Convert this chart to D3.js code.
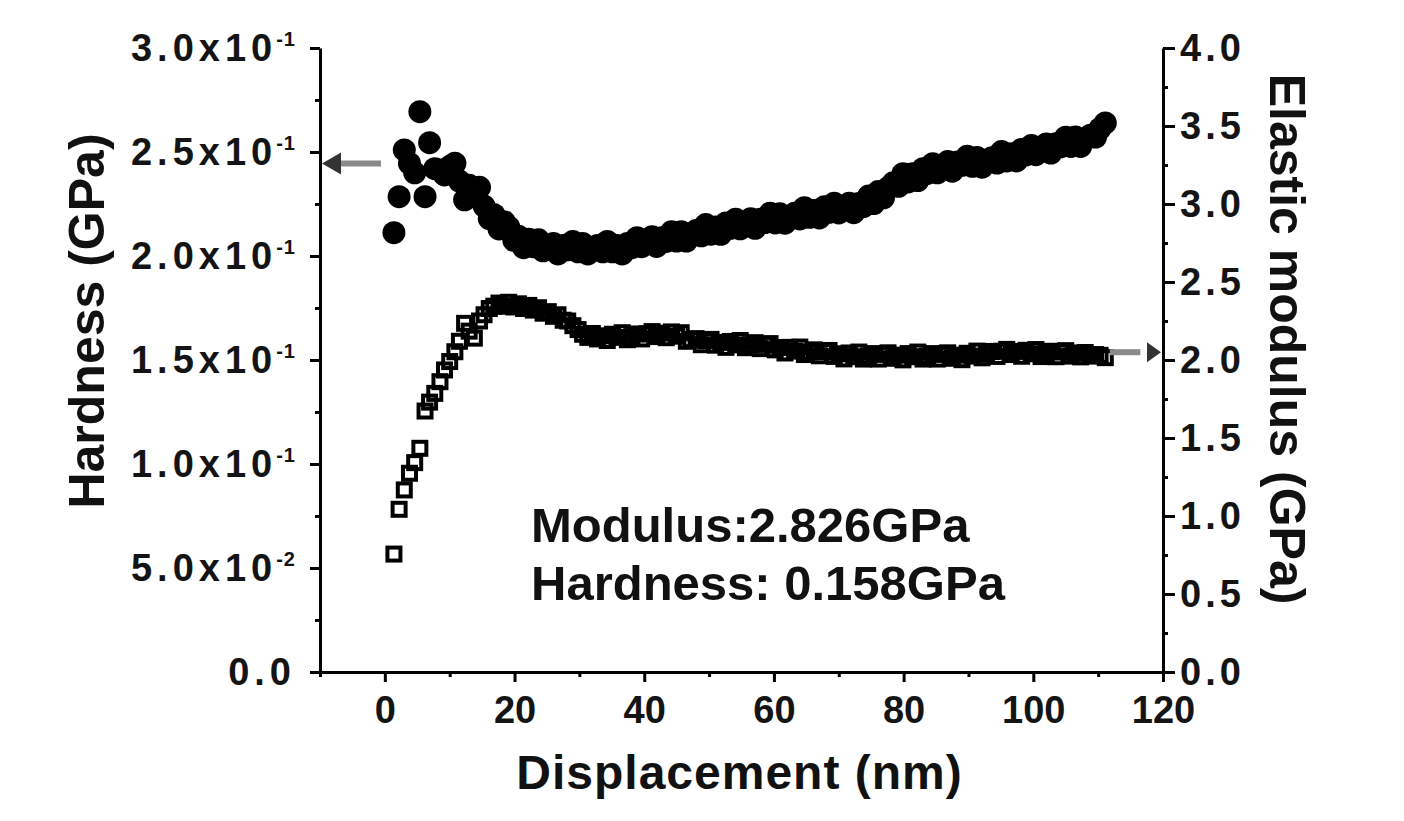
<!DOCTYPE html>
<html>
<head>
<meta charset="utf-8">
<script src="https://cdn.jsdelivr.net/npm/d3@7"></script>
<style>
  body { margin: 0; background: #fff; }
  svg { display: block; }
</style>
</head>
<body>
<div id="chart"></div>
<script>
// data (displacement in nm, hardness and modulus in GPa)
const displacement = [
  1.4, 2.2, 3.0, 3.8, 4.6, 5.4, 6.2, 6.9, 7.7, 8.5,
  9.2, 10.0, 10.8, 11.5, 12.3, 13.0, 13.8, 14.6, 15.3, 16.1,
  16.8, 17.6, 18.4, 19.1, 19.9, 20.6, 21.4, 22.2, 22.9, 23.7,
  24.4, 25.2, 26.0, 26.7, 27.5, 28.2, 29.0, 29.8, 30.5, 31.3,
  32.0, 32.8, 33.6, 34.3, 35.1, 35.8, 36.6, 37.4, 38.1, 38.9,
  39.6, 40.4, 41.2, 41.9, 42.7, 43.4, 44.2, 45.0, 45.7, 46.5,
  47.2, 48.0, 48.8, 49.5, 50.3, 51.0, 51.8, 52.6, 53.3, 54.1,
  54.8, 55.6, 56.4, 57.1, 57.9, 58.6, 59.4, 60.2, 60.9, 61.7,
  62.4, 63.2, 64.0, 64.7, 65.5, 66.2, 67.0, 67.8, 68.5, 69.3,
  70.0, 70.8, 71.6, 72.3, 73.1, 73.8, 74.6, 75.4, 76.1, 76.9,
  77.6, 78.4, 79.2, 79.9, 80.7, 81.4, 82.2, 83.0, 83.7, 84.5,
  85.2, 86.0, 86.8, 87.5, 88.3, 89.0, 89.8, 90.6, 91.3, 92.1,
  92.8, 93.6, 94.4, 95.1, 95.9, 96.6, 97.4, 98.2, 98.9, 99.7,
  100.4, 101.2, 102.0, 102.7, 103.5, 104.2, 105.0, 105.8, 106.5, 107.3,
  108.0, 108.8, 109.6, 110.3, 111.1
];

const hardness = [
  0.2112, 0.2285, 0.2510, 0.2445, 0.2400, 0.2694, 0.2285, 0.2545, 0.2420, 0.2413,
  0.2390, 0.2430, 0.2446, 0.2360, 0.2270, 0.2340, 0.2290, 0.2330, 0.2240, 0.2180,
  0.2200, 0.2130, 0.2165, 0.2140, 0.2075, 0.2095, 0.2040, 0.2080, 0.2045, 0.2078,
  0.2025, 0.2040, 0.2060, 0.2010, 0.2050, 0.2030, 0.2070, 0.2020, 0.2060, 0.2010,
  0.2040, 0.2050, 0.2020, 0.2070, 0.2020, 0.2050, 0.2010, 0.2060, 0.2040, 0.2088,
  0.2045, 0.2070, 0.2093, 0.2046, 0.2088, 0.2070, 0.2116, 0.2072, 0.2117, 0.2072,
  0.2107, 0.2122, 0.2097, 0.2151, 0.2105, 0.2139, 0.2104, 0.2159, 0.2133, 0.2177,
  0.2131, 0.2155, 0.2179, 0.2133, 0.2177, 0.2161, 0.2205, 0.2159, 0.2203, 0.2158,
  0.2191, 0.2205, 0.2178, 0.2232, 0.2186, 0.2219, 0.2183, 0.2237, 0.2210, 0.2254,
  0.2207, 0.2231, 0.2254, 0.2208, 0.2252, 0.2238, 0.2288, 0.2252, 0.2310, 0.2280,
  0.2328, 0.2352, 0.2335, 0.2396, 0.2356, 0.2395, 0.2363, 0.2420, 0.2397, 0.2444,
  0.2400, 0.2427, 0.2454, 0.2408, 0.2452, 0.2436, 0.2479, 0.2431, 0.2474, 0.2427,
  0.2459, 0.2472, 0.2447, 0.2502, 0.2457, 0.2492, 0.2457, 0.2512, 0.2486, 0.2531,
  0.2487, 0.2513, 0.2539, 0.2495, 0.2540, 0.2525, 0.2571, 0.2527, 0.2572, 0.2527,
  0.2563, 0.2581, 0.2572, 0.2613, 0.2640
];

const modulus = [
  0.756, 1.043, 1.167, 1.274, 1.342, 1.434, 1.673, 1.730, 1.786, 1.861,
  1.936, 1.990, 2.053, 2.120, 2.235, 2.185, 2.140, 2.250, 2.290, 2.330,
  2.345, 2.365, 2.345, 2.370, 2.340, 2.360, 2.330, 2.350, 2.320, 2.335,
  2.300, 2.310, 2.280, 2.290, 2.255, 2.250, 2.220, 2.195, 2.165, 2.145,
  2.170, 2.135, 2.155, 2.125, 2.165, 2.145, 2.175, 2.130, 2.150, 2.167,
  2.135, 2.168, 2.182, 2.150, 2.172, 2.143, 2.180, 2.153, 2.175, 2.120,
  2.130, 2.137, 2.098, 2.125, 2.132, 2.095, 2.113, 2.081, 2.119, 2.097,
  2.125, 2.079, 2.098, 2.111, 2.073, 2.100, 2.105, 2.065, 2.080, 2.045,
  2.081, 2.057, 2.083, 2.035, 2.052, 2.065, 2.027, 2.054, 2.061, 2.023,
  2.040, 2.007, 2.045, 2.021, 2.051, 2.006, 2.026, 2.041, 2.006, 2.036,
  2.046, 2.011, 2.031, 2.001, 2.041, 2.021, 2.051, 2.006, 2.026, 2.041,
  2.006, 2.036, 2.046, 2.011, 2.031, 2.002, 2.043, 2.025, 2.057, 2.014,
  2.037, 2.055, 2.023, 2.056, 2.068, 2.035, 2.055, 2.024, 2.062, 2.040,
  2.067, 2.022, 2.042, 2.056, 2.021, 2.051, 2.060, 2.025, 2.045, 2.020,
  2.048, 2.025, 2.035, 2.030, 2.015
];

const xTicks = [0, 20, 40, 60, 80, 100, 120];
const xMinorTicks = [-10, 10, 30, 50, 70, 90, 110];
const hardnessTicks = [0, 0.05, 0.1, 0.15, 0.2, 0.25, 0.3];
const hardnessMinorTicks = [0.025, 0.075, 0.125, 0.175, 0.225, 0.275];
const hardnessLabels = [
  ["0.0", ""], ["5.0x10", "-2"], ["1.0x10", "-1"], ["1.5x10", "-1"],
  ["2.0x10", "-1"], ["2.5x10", "-1"], ["3.0x10", "-1"]
];
const modulusTicks = [0, 0.5, 1, 1.5, 2, 2.5, 3, 3.5, 4];
const modulusMinorTicks = [0.25, 0.75, 1.25, 1.75, 2.25, 2.75, 3.25, 3.75];
const notes = ["Modulus:2.826GPa", "Hardness: 0.158GPa"];

const drawChart = () => {
  const dimensions = {
    width: 1404,
    height: 821,
    margin: { top: 48, right: 241, bottom: 149, left: 320 },
  };
  const x0 = dimensions.margin.left;
  const x1 = dimensions.width - dimensions.margin.right;
  const y0 = dimensions.height - dimensions.margin.bottom;
  const y1 = dimensions.margin.top;
  const font = "'Liberation Sans', Arial, sans-serif";

  const svg = d3
    .select("#chart")
    .append("svg")
    .attr("width", dimensions.width)
    .attr("height", dimensions.height)
    .style("background", "#fff");

  // Scales
  const xScale = d3.scaleLinear().domain([-10, 120]).range([x0, x1]);
  const hScale = d3.scaleLinear().domain([0, 0.3]).range([y0, y1]);
  const eScale = d3.scaleLinear().domain([0, 4]).range([y0, y1]);

  const styleAxis = (g) => {
    g.attr("font-family", font).attr("font-size", 38).attr("font-weight", "bold");
    g.select(".domain").attr("stroke", "#000").attr("stroke-width", 3);
    g.selectAll(".tick line").attr("stroke", "#000").attr("stroke-width", 3);
    g.selectAll(".tick text").attr("fill", "#141414");
  };
  const minorAxis = (g) => {
    g.select(".domain").remove();
    g.selectAll(".tick line").attr("stroke", "#000").attr("stroke-width", 3);
  };

  // minor ticks
  svg
    .append("g")
    .attr("transform", `translate(0,${y0})`)
    .call(d3.axisBottom(xScale).tickValues(xMinorTicks).tickSize(5).tickFormat(""))
    .call(minorAxis);
  svg
    .append("g")
    .attr("transform", `translate(${x0},0)`)
    .call(d3.axisLeft(hScale).tickValues(hardnessMinorTicks).tickSize(5).tickFormat(""))
    .call(minorAxis);
  svg
    .append("g")
    .attr("transform", `translate(${x1},0)`)
    .call(d3.axisRight(eScale).tickValues(modulusMinorTicks).tickSize(5).tickFormat(""))
    .call(minorAxis);

  // X axis
  svg
    .append("g")
    .attr("transform", `translate(0,${y0})`)
    .call(
      d3.axisBottom(xScale).tickValues(xTicks).tickSize(10).tickSizeOuter(0).tickPadding(14)
    )
    .call(styleAxis);

  // Left axis (hardness) with superscript labels
  const leftAxis = svg
    .append("g")
    .attr("transform", `translate(${x0},0)`)
    .call(
      d3.axisLeft(hScale).tickValues(hardnessTicks).tickSize(10).tickSizeOuter(0)
        .tickPadding(14).tickFormat(() => "")
    )
    .call(styleAxis);

  leftAxis.selectAll(".tick text").each(function (d, i) {
    const t = d3.select(this);
    const [base, exp] = hardnessLabels[i];
    t.append("tspan").attr("letter-spacing", 5).text(base);
    if (exp) {
      t.append("tspan")
        .attr("dx", -1)
        .attr("dy", -15)
        .attr("font-size", 20)
        .attr("letter-spacing", 1)
        .text(exp);
    }
  });

  // Right axis (modulus)
  svg
    .append("g")
    .attr("transform", `translate(${x1},0)`)
    .call(
      d3.axisRight(eScale).tickValues(modulusTicks).tickSize(12).tickSizeOuter(0)
        .tickPadding(5).tickFormat(d3.format(".1f"))
    )
    .call(styleAxis)
    .selectAll(".tick text")
    .attr("letter-spacing", 4);

  // Modulus: open squares
  const side = 13;
  svg
    .append("g")
    .selectAll("rect")
    .data(displacement)
    .join("rect")
    .attr("x", (d) => xScale(d) - side / 2)
    .attr("y", (d, i) => eScale(modulus[i]) - side / 2)
    .attr("width", side)
    .attr("height", side)
    .attr("fill", "none")
    .attr("stroke", "#000")
    .attr("stroke-width", 4);

  // Hardness: filled circles
  svg
    .append("g")
    .selectAll("circle")
    .data(displacement)
    .join("circle")
    .attr("cx", (d) => xScale(d))
    .attr("cy", (d, i) => hScale(hardness[i]))
    .attr("r", 11.5)
    .attr("fill", "#000");

  // Arrows pointing to the axes
  const arrows = svg.append("g");
  const ly = hScale(0.2445);
  arrows
    .append("line")
    .attr("x1", xScale(-0.6))
    .attr("x2", xScale(-7.5))
    .attr("y1", ly)
    .attr("y2", ly)
    .attr("stroke", "#8a8a8a")
    .attr("stroke-width", 6);
  arrows
    .append("path")
    .attr("d", `M${x0 + 2},${ly} L${x0 + 21},${ly - 11} L${x0 + 21},${ly + 11} Z`)
    .attr("fill", "#333");

  const ry = eScale(2.05);
  arrows
    .append("line")
    .attr("x1", xScale(111.8))
    .attr("x2", xScale(116.5))
    .attr("y1", ry)
    .attr("y2", ry)
    .attr("stroke", "#8a8a8a")
    .attr("stroke-width", 6);
  arrows
    .append("path")
    .attr("d", `M${x1 - 16},${ry - 10} L${x1 - 16},${ry + 10} L${x1 - 2},${ry} Z`)
    .attr("fill", "#333");

  // Axis titles
  svg
    .append("text")
    .attr("transform", `translate(104,${(y0 + y1) / 2 - 39}) rotate(-90)`)
    .attr("text-anchor", "middle")
    .attr("font-family", font)
    .attr("font-weight", "bold")
    .attr("font-size", 50)
    .attr("fill", "#111")
    .text("Hardness (GPa)");

  svg
    .append("text")
    .attr("transform", `translate(1270,${(y0 + y1) / 2 - 21}) rotate(90)`)
    .attr("text-anchor", "middle")
    .attr("font-family", font)
    .attr("font-weight", "bold")
    .attr("font-size", 50)
    .attr("fill", "#111")
    .text("Elastic modulus (GPa)");

  svg
    .append("text")
    .attr("x", (x0 + x1) / 2 - 2)
    .attr("y", 789)
    .attr("text-anchor", "middle")
    .attr("font-family", font)
    .attr("font-weight", "bold")
    .attr("font-size", 48)
    .attr("letter-spacing", 1)
    .attr("fill", "#111")
    .text("Displacement (nm)");

  // Summary note
  svg
    .append("g")
    .selectAll("text")
    .data(notes)
    .join("text")
    .attr("x", 531)
    .attr("y", (d, i) => 542 + i * 58)
    .attr("font-family", font)
    .attr("font-weight", "bold")
    .attr("font-size", 49)
    .attr("fill", "#111")
    .text((d) => d);
};

drawChart();
</script>
</body>
</html>
